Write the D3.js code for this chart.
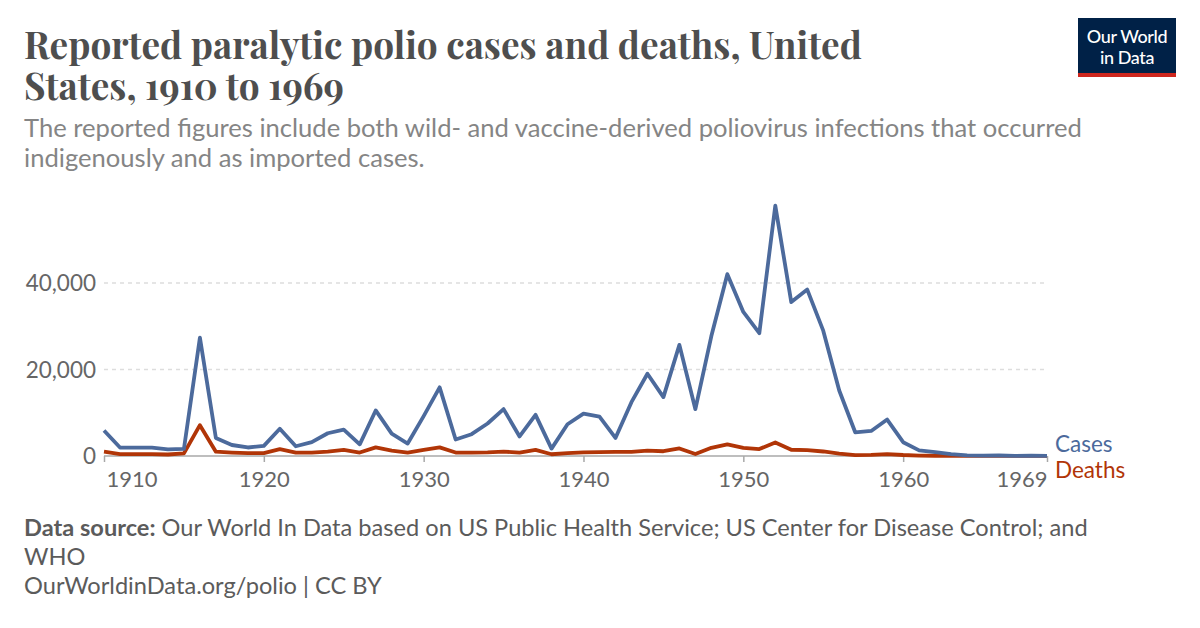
<!DOCTYPE html>
<html><head><meta charset="utf-8">
<script src="https://cdn.jsdelivr.net/npm/d3@7"></script>
<style>
body{margin:0;background:#fff;}
svg{display:block;}
text{font-family:Lato,"Noto Sans",sans-serif;}
</style></head>
<body>
<svg id="chart" width="1200" height="628"></svg>
<script>
const years = d3.range(1910, 1970);
const cases = [5904,1950,1950,1950,1520,1639,27363,4174,2543,1967,2338,6301,2255,3200,5262,6104,2700,10533,5169,2882,
  9220,15872,3820,5043,7510,10839,4523,9514,1705,7343,9804,9086,4167,12450,19029,13624,25698,10827,27726,42033,
  33300,28386,57879,35592,38476,28985,15140,5485,5787,8425,3190,1312,910,449,122,72,113,41,53,20];
const deaths = [1000,450,450,450,350,600,7130,1000,800,650,650,1600,800,800,1000,1400,800,2000,1250,800,
  1400,2000,800,800,850,1000,800,1400,400,650,850,900,950,950,1250,1100,1750,450,1900,2700,
  1900,1600,3145,1450,1368,1043,566,221,255,454,230,90,60,41,17,16,9,16,24,13];
const yTicks = [0, 20000, 40000];
const xTicks = [1910, 1920, 1930, 1940, 1950, 1960, 1969];
const seriesNames = ["Cases", "Deaths"];
const seriesColors = ["#4c6a9c", "#b13507"];

const svg = d3.select("#chart");

function fitWidth(sel, node, base, target) {
  const w = node.getComputedTextLength();
  sel.style("font-size", (base * target / w).toFixed(2) + "px");
}

// Title
const title = svg.append("text").attr("x", 24).attr("fill", "#4e4e4e")
  .style("font-family", "'Playfair Display','Liberation Serif','DejaVu Serif',serif")
  .style("font-weight", "700").style("font-size", "36px");
title.append("tspan").attr("x", 24).attr("y", 59).text("Reported paralytic polio cases and deaths, United");
title.append("tspan").attr("x", 24).attr("y", 100).text("States, 1910 to 1969");
fitWidth(title, title.select("tspan").node(), 36, 838);

const sub = svg.append("text").attr("fill", "#858585").style("font-size", "21px");
sub.append("tspan").attr("x", 24).attr("y", 137).text("The reported figures include both wild- and vaccine-derived poliovirus infections that occurred");
sub.append("tspan").attr("x", 24).attr("y", 167).text("indigenously and as imported cases.");
fitWidth(sub, sub.select("tspan").node(), 21, 1058);

// Logo
const logo = svg.append("g");
logo.append("rect").attr("x", 1078).attr("y", 18).attr("width", 98).attr("height", 55).attr("fill", "#002147");
logo.append("rect").attr("x", 1078).attr("y", 73).attr("width", 98).attr("height", 4).attr("fill", "#ce261e");
logo.append("text").attr("x", 1127).attr("y", 43).attr("text-anchor", "middle").attr("fill", "#fff")
  .style("font-size", "18px").style("font-weight", "500").style("letter-spacing", "-0.4px").text("Our World");
logo.append("text").attr("x", 1127).attr("y", 64).attr("text-anchor", "middle").attr("fill", "#fff")
  .style("font-size", "18px").style("font-weight", "500").style("letter-spacing", "-0.4px").text("in Data");

// Scales
const x = d3.scaleLinear().domain([1910, 1969]).range([104, 1047]);
const y = d3.scaleLinear().domain([0, 40000]).range([456, 283]);

// Grid
svg.append("g").selectAll("line").data(yTicks.filter(d => d > 0)).join("line")
  .attr("x1", 104).attr("x2", 1047).attr("y1", d => y(d)).attr("y2", d => y(d))
  .attr("stroke", "#dddddd").attr("stroke-width", 1.5).attr("stroke-dasharray", "4,4");

// Y labels
svg.append("g").selectAll("text").data(yTicks).join("text")
  .attr("x", 96).attr("y", d => y(d)).attr("dy", "0.36em").attr("text-anchor", "end")
  .attr("fill", "#666").style("font-size", "22.5px").text(d => d3.format(",")(d));

// X axis
const xAxis = d3.axisBottom(x).tickValues(xTicks).tickSize(6).tickFormat(d3.format("d"));
const gx = svg.append("g").attr("transform", "translate(0,456)").call(xAxis);
gx.select(".domain").attr("stroke", "#a8a8a8").attr("stroke-width", 1.5).attr("d", "M104,0H1047");
gx.selectAll(".tick line").attr("stroke", "#a8a8a8").attr("stroke-width", 1.5);
gx.selectAll(".tick text").attr("fill", "#666").style("font-size", "22px").style("font-family", "Lato")
  .attr("y", 15)
  .attr("text-anchor", d => d === 1910 ? "start" : (d === 1969 ? "end" : "middle"))
  .attr("dx", d => d === 1910 ? 2 : 0);

// Lines
const line = d3.line().x((d, i) => x(years[i])).y(d => y(d));
[[deaths, 1], [cases, 0]].forEach(([vals, idx]) => {
  svg.append("path").datum(vals).attr("d", line).attr("fill", "none")
    .attr("stroke", seriesColors[idx]).attr("stroke-width", 3.8)
    .attr("stroke-linejoin", "round").attr("stroke-linecap", "butt");
});

// Labels
svg.append("text").attr("x", 1055).attr("y", 452).attr("fill", seriesColors[0]).style("font-size", "22.5px").text(seriesNames[0]);
svg.append("text").attr("x", 1055).attr("y", 478).attr("fill", seriesColors[1]).style("font-size", "22.5px").text(seriesNames[1]);

// Footer
const foot = svg.append("g").attr("fill", "#5b5b5b");
const f1 = foot.append("text").attr("x", 24).attr("y", 536).style("font-size", "18px");
f1.append("tspan").style("font-weight", "700").text("Data source:");
f1.append("tspan").text(" Our World In Data based on US Public Health Service; US Center for Disease Control; and");
const fs = 18 * 1064 / f1.node().getComputedTextLength();
f1.style("font-size", fs.toFixed(2) + "px");
foot.append("text").attr("x", 24).attr("y", 565).style("font-size", fs.toFixed(2) + "px").text("WHO");
foot.append("text").attr("x", 24).attr("y", 594).style("font-size", fs.toFixed(2) + "px").text("OurWorldinData.org/polio | CC BY");
</script>
</body></html>
